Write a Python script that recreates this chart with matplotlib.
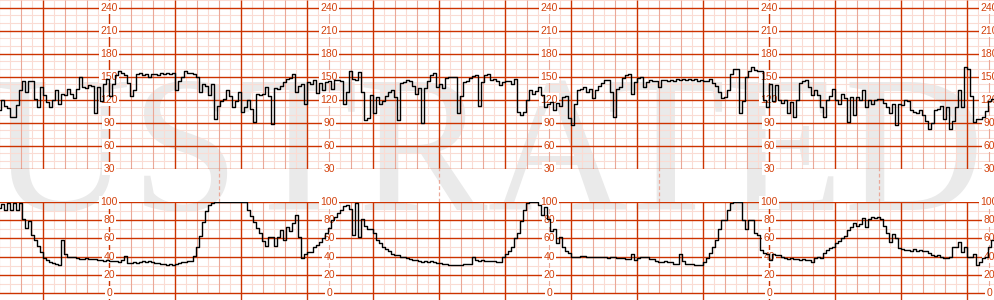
import numpy as np
import matplotlib.pyplot as plt

# fetal heart rate (bpm), one reading every 3/22 min
fhr = [
    106, 120, 112, 109, 98, 97, 113, 132, 144, 130,
    145, 145, 121, 110, 136, 126, 117, 110, 119, 133,
    115, 128, 126, 134, 128, 122, 134, 150, 136, 135,
    139, 138, 102, 137, 118, 141, 147, 125, 140, 152,
    157, 155, 152, 142, 125, 133, 153, 155, 152, 154,
    150, 154, 153, 152, 155, 153, 155, 153, 155, 132,
    145, 150, 158, 155, 155, 153, 150, 130, 140, 138,
    126, 141, 95, 112, 118, 121, 133, 125, 110, 118,
    130, 104, 110, 120,
    108, 91, 128, 126, 128, 137, 125, 88, 135, 134,
    138, 143, 147, 148, 154, 130, 138, 140, 114, 143,
    141, 146, 129, 142, 133, 143, 145, 134, 146, 146,
    144, 115, 130, 158, 147, 146, 156, 130, 93, 96,
    126, 102, 123, 114, 118, 125, 130, 132, 124, 93,
    142, 143, 146, 145, 138, 128, 135, 90, 135, 145,
    152, 155, 137, 140, 135, 148, 150, 150, 150, 103,
    125, 143, 144, 148, 151, 152, 112, 143, 152, 154,
    146, 147, 144,
    139, 143, 145, 144, 141, 147, 104, 100, 104, 119,
    133, 128, 131, 137, 126, 110, 115, 117, 106, 116,
    112, 123, 125, 96, 87, 115, 132, 134, 136, 130,
    134, 122, 133, 138, 142, 146, 146, 130, 98, 134,
    137, 148, 152, 153, 128, 143, 148, 150, 137, 143,
    146, 144, 145, 136, 146, 146, 145, 146, 145, 147,
    146, 147, 146, 147, 146, 147, 145, 146, 145, 145,
    147, 142, 138, 130, 122, 124, 133, 154, 160, 160,
    102, 118,
    150, 158, 162, 159, 157, 158, 119, 110, 140, 118,
    139, 119, 116, 119, 102, 117, 97, 119, 142, 145,
    146, 137, 126, 133, 126, 110, 97, 119, 125, 134,
    120, 115, 127, 122, 91, 123, 100, 123, 119, 132,
    110, 120, 115, 119, 121, 121, 116, 110, 102, 115,
    87, 115, 113, 119, 118, 106, 104, 102, 106, 100,
    92, 82, 90, 106, 108, 112, 95, 110, 82, 92,
    110, 132, 110, 162, 160, 125, 91, 95, 95, 97,
    105, 118, 121,
]

# uterine activity, same readings
ua = [
    94, 98, 91, 99, 91, 99, 92, 99, 82, 72,
    79, 64, 58, 52, 45, 38, 36, 34, 33, 32,
    31, 58, 43, 40, 39, 39, 38, 37, 37, 38,
    37, 37, 37, 36, 36, 35, 36, 35, 35, 35,
    34, 36, 41, 33, 33, 34, 33, 34, 35, 34,
    35, 34, 33, 33, 32, 32, 31, 32, 31, 32,
    33, 34, 34, 35, 35, 41, 51, 63, 78, 90,
    97, 99, 100, 100, 100, 100, 100, 100, 100, 100,
    100, 100, 100, 92,
    85, 78, 72, 66, 57, 52, 62, 62, 52, 62,
    69, 58, 73, 68, 77, 86, 62, 38, 43, 45,
    45, 50, 53, 56, 60, 66, 72, 80, 84, 88,
    92, 96, 97, 93, 64, 99, 62, 82, 74, 70,
    71, 66, 58, 55, 51, 48, 46, 43, 42, 42,
    40, 40, 38, 37, 36, 36, 35, 34, 35, 34,
    35, 34, 33, 33, 32, 32, 31, 31, 31, 31,
    31, 32, 32, 32, 40, 36, 35, 36, 35, 35,
    35, 35, 34,
    34, 39, 43, 46, 50, 60, 66, 79, 91, 99,
    100, 100, 100, 97, 86, 95, 82, 68, 70, 55,
    62, 51, 46, 44, 40, 39, 40, 41, 41, 40,
    40, 40, 39, 40, 39, 39, 38, 39, 39, 38,
    38, 38, 37, 37, 43, 36, 38, 40, 40, 40,
    37, 37, 35, 34, 34, 35, 34, 34, 32, 32,
    43, 35, 32, 32, 32, 31, 31, 31, 34, 38,
    44, 50, 58, 70, 80, 80, 92, 99, 100, 100,
    100, 80,
    71, 80, 80, 66, 64, 47, 44, 43, 36, 43,
    42, 42, 40, 38, 37, 38, 37, 37, 36, 37,
    36, 36, 34, 38, 39, 38, 44, 47, 49, 51,
    55, 57, 61, 63, 69, 73, 77, 74, 76, 83,
    73, 82, 84, 83, 84, 82, 74, 66, 56, 65,
    60, 49, 48, 47, 47, 46, 48, 46, 47, 46,
    46, 44, 42, 41, 42, 40, 38, 38, 39, 51,
    51, 56, 45, 50, 40, 40, 43, 31, 34, 38,
    40, 50, 58,
]

fhr_labels = [240, 210, 180, 150, 120, 90, 60, 30]
ua_labels = [100, 80, 60, 40, 20, 0]
label_minutes = [5, 15, 25, 35, 45]
page_marks = [10, 20, 30, 40]

step = 3 / 22      # minutes between readings
t_start = 0.03
t = t_start + step * np.arange(len(fhr))

MAJOR = '#cc3300'
MID = '#eaa898'
MINOR = '#fadcd4'
LABEL = '#d3410c'

fig = plt.figure(figsize=(9.94, 3.0), dpi=100)
fig.patch.set_facecolor('white')

xlim = (0.032, 45.214)
ax_fhr = fig.add_axes([0, 1 - 168.67 / 300, 1, 168.67 / 300])
ax_ua = fig.add_axes([0, 0, 1, 97.7 / 300])
ax_fhr.set_xlim(*xlim)
ax_fhr.set_ylim(30, 250)
ax_ua.set_xlim(*xlim)
ax_ua.set_ylim(-8.08, 100)
for ax in (ax_fhr, ax_ua):
    ax.axis('off')

# watermark behind everything
fig.text(0.99, 1 - 210 / 300, 'ILLUSTRATED', fontsize=140, family='Liberation Serif',
         color='#eaeaea', ha='right', va='baseline', zorder=-5)

grid_t = np.arange(0, 45.5, 0.5)


def draw_grid(ax, lo, hi, minor_step, major_step, major_top, tick_low):
    for v in np.arange(lo, hi + 0.1, minor_step):
        is_major = (v - lo) % major_step == 0 and v <= major_top
        ax.axhline(v, color=MAJOR if is_major else MINOR,
                   lw=1.0 if is_major else 0.8, zorder=3 if is_major else 1)
    for g in grid_t:
        if g % 1 == 0 and g % 3 == 2:
            ax.vlines(g, tick_low, hi, color=MAJOR, lw=1.0, zorder=3)
        elif g % 1 == 0:
            ax.vlines(g, lo, hi, color=MID, lw=0.8, zorder=2)
        else:
            ax.vlines(g, lo, hi, color=MINOR, lw=0.8, zorder=1)


draw_grid(ax_fhr, 30, 250, 10, 30, 240, 30)
draw_grid(ax_ua, 0, 100, 10, 20, 100, -8.08)

# dashed page marks in the gap between the panels
ax_ua.vlines(page_marks, 100, 137.6, color=MID, lw=0.9, linestyles=(0, (3, 2)),
             clip_on=False, zorder=2)

box = dict(facecolor='white', edgecolor='none', pad=1.0)
for m in label_minutes:
    for v in fhr_labels:
        ax_fhr.text(m, v, str(v), color=LABEL, fontsize=7.5, family='Liberation Sans',
                    ha='center', va='center', bbox=box, zorder=4)
    for v in ua_labels:
        ax_ua.text(m, v, str(v), color=LABEL, fontsize=7.5, family='Liberation Sans',
                   ha='center', va='center', bbox=box, zorder=4)

ax_fhr.plot(t, fhr, color='black', lw=1.0, drawstyle='steps-mid', zorder=6)
ax_ua.plot(t, ua, color='black', lw=1.0, drawstyle='steps-mid', zorder=6)

fig.savefig('out.png', dpi=100, facecolor='white')
